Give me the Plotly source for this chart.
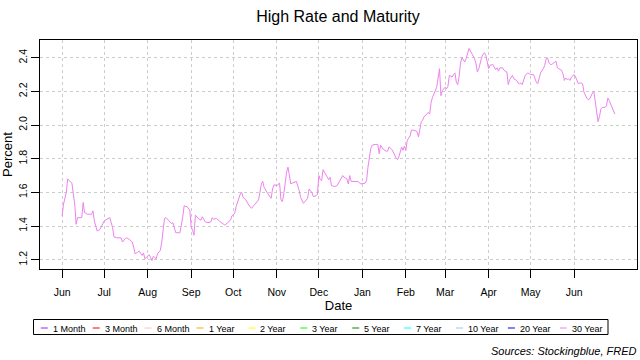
import plotly.graph_objects as go
import pandas as pd

# ---------------- data ----------------
dates = [
    "2020-06-01", "2020-06-02", "2020-06-04", "2020-06-05", "2020-06-06", "2020-06-08", "2020-06-09", "2020-06-10", "2020-06-11", "2020-06-12",
    "2020-06-15", "2020-06-16", "2020-06-17", "2020-06-19", "2020-06-22", "2020-06-23", "2020-06-24", "2020-06-26", "2020-06-28", "2020-06-29",
    "2020-07-01", "2020-07-05", "2020-07-07", "2020-07-08", "2020-07-10", "2020-07-13", "2020-07-14", "2020-07-16", "2020-07-17", "2020-07-19",
    "2020-07-21", "2020-07-22", "2020-07-23", "2020-07-25", "2020-07-26", "2020-07-28", "2020-07-29", "2020-07-30", "2020-07-31",
    "2020-08-02", "2020-08-03", "2020-08-04", "2020-08-05", "2020-08-07", "2020-08-08", "2020-08-10", "2020-08-11", "2020-08-12", "2020-08-13",
    "2020-08-14", "2020-08-16", "2020-08-18", "2020-08-19", "2020-08-20", "2020-08-21", "2020-08-24", "2020-08-25", "2020-08-26", "2020-08-27",
    "2020-08-29", "2020-08-31",
    "2020-09-01", "2020-09-02", "2020-09-03", "2020-09-04", "2020-09-05", "2020-09-06", "2020-09-08", "2020-09-09", "2020-09-11", "2020-09-13",
    "2020-09-15", "2020-09-16", "2020-09-17", "2020-09-19", "2020-09-21", "2020-09-24", "2020-09-25", "2020-09-27", "2020-09-29", "2020-09-30",
    "2020-10-02", "2020-10-03", "2020-10-05", "2020-10-06", "2020-10-07", "2020-10-08", "2020-10-10", "2020-10-12", "2020-10-14", "2020-10-16",
    "2020-10-19", "2020-10-20", "2020-10-21", "2020-10-22", "2020-10-23", "2020-10-25", "2020-10-26", "2020-10-28", "2020-10-29", "2020-10-30",
    "2020-11-01", "2020-11-02", "2020-11-03", "2020-11-04", "2020-11-05", "2020-11-06", "2020-11-07", "2020-11-08", "2020-11-09", "2020-11-10",
    "2020-11-11", "2020-11-12", "2020-11-14", "2020-11-15", "2020-11-17", "2020-11-18", "2020-11-20", "2020-11-21", "2020-11-22", "2020-11-23",
    "2020-11-24", "2020-11-26", "2020-11-27", "2020-11-29", "2020-11-30",
    "2020-12-01", "2020-12-02", "2020-12-03", "2020-12-04", "2020-12-06", "2020-12-07", "2020-12-08", "2020-12-09", "2020-12-10", "2020-12-12",
    "2020-12-14", "2020-12-15", "2020-12-18", "2020-12-19", "2020-12-21", "2020-12-22", "2020-12-23", "2020-12-24", "2020-12-26", "2020-12-29",
    "2020-12-30", "2020-12-31",
    "2021-01-03", "2021-01-04", "2021-01-05", "2021-01-06", "2021-01-07", "2021-01-08", "2021-01-10", "2021-01-12", "2021-01-13", "2021-01-14",
    "2021-01-15", "2021-01-16", "2021-01-18", "2021-01-19", "2021-01-20", "2021-01-22", "2021-01-23", "2021-01-24", "2021-01-25", "2021-01-26",
    "2021-01-27", "2021-01-29", "2021-01-30", "2021-01-31",
    "2021-02-01", "2021-02-02", "2021-02-04", "2021-02-05", "2021-02-06", "2021-02-08", "2021-02-09", "2021-02-10", "2021-02-11", "2021-02-12",
    "2021-02-13", "2021-02-14", "2021-02-16", "2021-02-17", "2021-02-18", "2021-02-19", "2021-02-20", "2021-02-21", "2021-02-22", "2021-02-23",
    "2021-02-24", "2021-02-25", "2021-02-26", "2021-02-27",
    "2021-03-01", "2021-03-02", "2021-03-03", "2021-03-04", "2021-03-05", "2021-03-06", "2021-03-07", "2021-03-08", "2021-03-09", "2021-03-10",
    "2021-03-11", "2021-03-12", "2021-03-13", "2021-03-14", "2021-03-15", "2021-03-16", "2021-03-17", "2021-03-18", "2021-03-19", "2021-03-21",
    "2021-03-22", "2021-03-23", "2021-03-24", "2021-03-25", "2021-03-26", "2021-03-27", "2021-03-28", "2021-03-29", "2021-03-30", "2021-03-31",
    "2021-04-01", "2021-04-02", "2021-04-03", "2021-04-04", "2021-04-06", "2021-04-07", "2021-04-08", "2021-04-09", "2021-04-11", "2021-04-12",
    "2021-04-14", "2021-04-15", "2021-04-16", "2021-04-17", "2021-04-18", "2021-04-19", "2021-04-21", "2021-04-22", "2021-04-23", "2021-04-24",
    "2021-04-25", "2021-04-27", "2021-04-28", "2021-04-29", "2021-04-30",
    "2021-05-01", "2021-05-03", "2021-05-04", "2021-05-05", "2021-05-06", "2021-05-07", "2021-05-08", "2021-05-10", "2021-05-11", "2021-05-12",
    "2021-05-13", "2021-05-14", "2021-05-15", "2021-05-16", "2021-05-17", "2021-05-18", "2021-05-19", "2021-05-20", "2021-05-22", "2021-05-23",
    "2021-05-24", "2021-05-25", "2021-05-26", "2021-05-27", "2021-05-28", "2021-05-29", "2021-05-30", "2021-05-31",
    "2021-06-01", "2021-06-02", "2021-06-04", "2021-06-05", "2021-06-06", "2021-06-07", "2021-06-08", "2021-06-10", "2021-06-11", "2021-06-12",
    "2021-06-13", "2021-06-14", "2021-06-15", "2021-06-16", "2021-06-17", "2021-06-18", "2021-06-19", "2021-06-20", "2021-06-21", "2021-06-23",
    "2021-06-24", "2021-06-25", "2021-06-26", "2021-06-27", "2021-06-28", "2021-06-29", "2021-06-30",
]

rate_30y = [
    1.46, 1.53, 1.60, 1.68, 1.67, 1.655, 1.59, 1.53, 1.41, 1.45,
    1.45, 1.54, 1.48, 1.47, 1.47, 1.49, 1.43, 1.37, 1.38, 1.40,
    1.43, 1.45, 1.39, 1.335, 1.33, 1.33, 1.305, 1.325, 1.33, 1.32,
    1.305, 1.275, 1.235, 1.245, 1.25, 1.225, 1.24, 1.205, 1.215,
    1.23, 1.215, 1.195, 1.22, 1.205, 1.235, 1.255, 1.305, 1.395, 1.445,
    1.45, 1.435, 1.415, 1.42, 1.385, 1.36, 1.36, 1.405, 1.455, 1.52,
    1.515, 1.495,
    1.395, 1.375, 1.345, 1.465, 1.455, 1.445, 1.435, 1.455, 1.425, 1.42,
    1.425, 1.45, 1.44, 1.445, 1.43, 1.41, 1.405, 1.42, 1.435, 1.46,
    1.475, 1.515, 1.57, 1.59, 1.60, 1.57, 1.555, 1.525, 1.505, 1.525,
    1.555, 1.60, 1.65, 1.665, 1.63, 1.60, 1.59, 1.565, 1.62, 1.645,
    1.64, 1.65, 1.655, 1.555, 1.545, 1.59, 1.67, 1.72, 1.75, 1.69,
    1.65, 1.655, 1.66, 1.665, 1.61, 1.57, 1.535, 1.545, 1.555, 1.565,
    1.62, 1.60, 1.575, 1.58, 1.59,
    1.70, 1.675, 1.67, 1.735, 1.71, 1.69, 1.675, 1.69, 1.64, 1.635,
    1.64, 1.655, 1.70, 1.69, 1.68, 1.65, 1.70, 1.665, 1.665, 1.665,
    1.655, 1.65,
    1.655, 1.67, 1.75, 1.82, 1.86, 1.88, 1.885, 1.885, 1.83, 1.88,
    1.865, 1.855, 1.845, 1.845, 1.87, 1.855, 1.84, 1.82, 1.805, 1.795,
    1.81, 1.87, 1.85, 1.875,
    1.85, 1.91, 1.935, 1.97, 1.97, 1.965, 1.96, 1.93, 1.985, 2.02,
    2.03, 2.05, 2.065, 2.075, 2.065, 2.135, 2.165, 2.185, 2.20, 2.225,
    2.28, 2.335, 2.175, 2.205,
    2.225, 2.215, 2.23, 2.295, 2.29, 2.285, 2.30, 2.31, 2.255, 2.24,
    2.29, 2.37, 2.40, 2.385, 2.375, 2.395, 2.425, 2.455, 2.44, 2.415,
    2.395, 2.365, 2.315, 2.335, 2.375, 2.40, 2.42, 2.43, 2.415, 2.375,
    2.335, 2.355, 2.36, 2.36, 2.33, 2.34, 2.32, 2.34, 2.34, 2.325,
    2.315, 2.24, 2.27, 2.285, 2.295, 2.275, 2.265, 2.25, 2.245, 2.25,
    2.24, 2.295, 2.305, 2.31, 2.305,
    2.30, 2.30, 2.275, 2.255, 2.245, 2.285, 2.31, 2.335, 2.355, 2.395,
    2.40, 2.37, 2.36, 2.36, 2.365, 2.37, 2.38, 2.34, 2.33, 2.325,
    2.305, 2.265, 2.28, 2.27, 2.275, 2.265, 2.285, 2.295,
    2.30, 2.285, 2.245, 2.25, 2.25, 2.245, 2.195, 2.16, 2.15, 2.155,
    2.175, 2.19, 2.20, 2.135, 2.065, 2.02, 2.05, 2.095, 2.105, 2.105,
    2.115, 2.16, 2.145, 2.125, 2.10, 2.085, 2.065,
]

maturities = ["1 Month", "3 Month", "6 Month", "1 Year", "2 Year", "3 Year",
              "5 Year", "7 Year", "10 Year", "20 Year", "30 Year"]
maturity_colors = ["#A020F0", "#FF0000", "#FFC0CB", "#FFA500", "#FFFF00", "#00FF00",
                   "#008B00", "#00FFFF", "#87CEFA", "#0000FF", "#EE82EE"]

tick_dates = ["2020-06-01", "2020-07-01", "2020-08-01", "2020-09-01", "2020-10-01",
              "2020-11-01", "2020-12-01", "2021-01-01", "2021-02-01", "2021-03-01",
              "2021-04-01", "2021-05-01", "2021-06-01"]
tick_labels = ["Jun", "Jul", "Aug", "Sep", "Oct", "Nov", "Dec",
               "Jan", "Feb", "Mar", "Apr", "May", "Jun"]
y_ticks = [1.2, 1.4, 1.6, 1.8, 2.0, 2.2, 2.4]

assert len(dates) == len(rate_30y)

# ---------------- layout helpers ----------------
W, H = 640, 360
ML, MR, MT, MB = 40, 3, 40, 91
PW, PH = W - ML - MR, H - MT - MB
FONT = "Liberation Sans, Arial, sans-serif"


def pxx(px):
    return (px - ML) / PW


def pxy(py):
    return (H - MB - py) / PH


d = pd.to_datetime(dates)
span = d.max() - d.min()
x_range = [d.min() - 0.04 * span, d.max() + 0.04 * span]
ymin, ymax = min(rate_30y), max(rate_30y)
ypad = 0.04 * (ymax - ymin)
y_range = [ymin - ypad, ymax + ypad]

fig = go.Figure()
fig.add_trace(go.Scatter(
    x=d, y=rate_30y, mode="lines", name="30 Year",
    line=dict(color=maturity_colors[-1], width=1), showlegend=False,
))

grid = dict(showgrid=True, gridcolor="#CCCCCC", gridwidth=1, griddash="dot")

fig.update_layout(
    width=W, height=H,
    margin=dict(l=ML, r=MR, t=MT, b=MB, autoexpand=False),
    paper_bgcolor="white", plot_bgcolor="white",
    font=dict(family=FONT, color="black"),
    showlegend=False,
    title=dict(text="High Rate and Maturity", x=pxx(338), xref="paper", xanchor="center",
               y=1 - 16 / H, yref="container", yanchor="middle",
               font=dict(size=16, family=FONT, color="black")),
    xaxis=dict(
        range=x_range, tickmode="array",
        tickvals=pd.to_datetime(tick_dates), ticktext=tick_labels,
        ticks="outside", ticklen=8, tickwidth=1, tickcolor="black",
        ticklabelstandoff=5,
        tickfont=dict(size=10.5, family=FONT, color="black"),
        showline=True, linecolor="black", linewidth=1, mirror=True,
        zeroline=False,
        title=dict(text="Date", font=dict(size=13, family=FONT, color="black"), standoff=2),
        **grid,
    ),
    yaxis=dict(
        range=y_range, tickmode="array", tickvals=y_ticks,
        ticktext=[f"{v:.1f}" for v in y_ticks],
        ticks="outside", ticklen=8, tickwidth=1, tickcolor="black",
        tickangle=-90,
        tickfont=dict(size=10.5, family=FONT, color="black"),
        showline=True, linecolor="black", linewidth=1, mirror=True,
        zeroline=False,
        title=dict(text="Percent", font=dict(size=13, family=FONT, color="black"), standoff=3),
        **grid,
    ),
)

# legend box (R style, below the plot)
shapes = [dict(type="rect", xref="paper", yref="paper",
               x0=pxx(33.5), x1=pxx(608), y0=pxy(334.5), y1=pxy(319.5),
               line=dict(color="black", width=1), fillcolor="rgba(0,0,0,0)")]
annotations = []
for i, (name, col) in enumerate(zip(maturities, maturity_colors)):
    x0 = 40.8 + i * 51.9
    shapes.append(dict(type="line", xref="paper", yref="paper",
                       x0=pxx(x0), x1=pxx(x0 + 7), y0=pxy(328), y1=pxy(328),
                       line=dict(color=col, width=1)))
    annotations.append(dict(text=name, xref="paper", yref="paper",
                            x=pxx(x0 + 10), y=pxy(328.5), xanchor="left", yanchor="middle",
                            showarrow=False, font=dict(size=9, family=FONT, color="black")))

annotations.append(dict(text="<i>Sources: Stockingblue, FRED</i>", xref="paper", yref="paper",
                        x=pxx(639), y=pxy(351), xanchor="right", yanchor="middle",
                        showarrow=False, font=dict(size=11, family=FONT, color="black")))

fig.update_layout(shapes=shapes, annotations=annotations)

fig.write_html("out.html", config={"displayModeBar": False},
               post_script="document.body.style.margin='0';")
